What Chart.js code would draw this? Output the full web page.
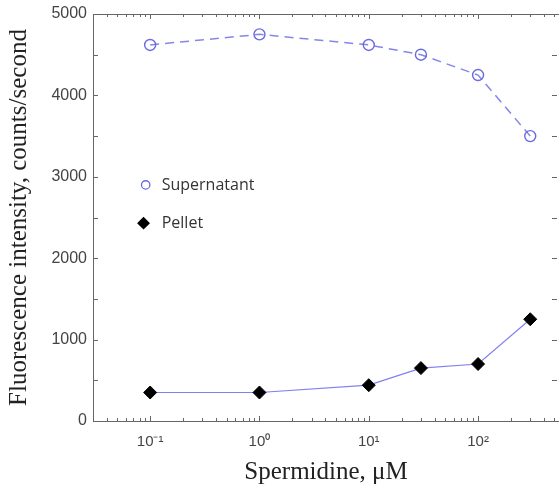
<!DOCTYPE html>
<html><head><meta charset="utf-8">
<script src="https://cdn.jsdelivr.net/npm/chart.js@4.4.0/dist/chart.umd.min.js"></script>
<style>html,body{margin:0;padding:0;background:#fff}#wrap{width:559px;height:490px}</style>
</head><body><div id="wrap"><canvas id="c" width="559" height="490"></canvas></div>
<script>
// ---- data ----
const spermidine = [0.1, 1, 10, 30, 100, 300];
const supernatant = [4620, 4750, 4620, 4500, 4250, 3500];
const pellet = [350, 350, 440, 650, 700, 1250];
const seriesNames = ['Supernatant', 'Pellet'];
const yTickLabels = [0, 1000, 2000, 3000, 4000, 5000];
const xTickLabels = [0.1, 1, 10, 100];
const xTickText = ['10\u207B\u00B9', '10\u2070', '10\u00B9', '10\u00B2'];
const xTitle = 'Spermidine, \u03BCM';
const yTitle = 'Fluorescence intensity, counts/second';

const X_MIN = 0.03, X_MAX = 550;
const AXIS_COLOR = '#666';

function logTicks(min, max) {
  const out = [];
  for (let e = Math.floor(Math.log10(min)); e <= Math.ceil(Math.log10(max)); e++) {
    for (let s = 1; s <= 9; s++) {
      const v = +(s * Math.pow(10, e)).toPrecision(6);
      if (v >= min - 1e-12 && v <= max + 1e-9) out.push(v);
    }
  }
  return out;
}
function isDecade(v) {
  const l = Math.log10(v);
  return Math.abs(l - Math.round(l)) < 1e-9;
}

const frameAndTicks = {
  id: 'frameAndTicks',
  afterDatasetsDraw(chart) {
    const ctx = chart.ctx, a = chart.chartArea;
    const xs = chart.scales.x, ys = chart.scales.y;
    ctx.save();
    ctx.strokeStyle = AXIS_COLOR;
    ctx.lineWidth = 1;
    ctx.beginPath();
    ctx.moveTo(a.left + 0.5, a.top + 0.5); ctx.lineTo(a.left + 0.5, a.bottom + 0.5);
    ctx.lineTo(a.right, a.bottom + 0.5);
    ctx.moveTo(a.left + 0.5, a.top + 0.5); ctx.lineTo(a.right, a.top + 0.5);
    ctx.stroke();
    ctx.beginPath();
    xs.ticks.forEach(t => {
      const px = Math.round(xs.getPixelForValue(t.value)) + 0.5;
      const len = isDecade(t.value) ? 5 : 3;
      ctx.moveTo(px, a.bottom); ctx.lineTo(px, a.bottom - len);
      ctx.moveTo(px, a.top); ctx.lineTo(px, a.top + len);
    });
    ys.ticks.forEach(t => {
      const py = Math.round(ys.getPixelForValue(t.value)) + 0.5;
      ctx.moveTo(a.left, py); ctx.lineTo(a.left + 5, py);
      ctx.moveTo(a.right - 2, py); ctx.lineTo(a.right - 7, py);
    });
    ctx.stroke();
    ctx.restore();
  }
};

const customLegend = {
  id: 'customLegend',
  afterDraw(chart) {
    const ctx = chart.ctx;
    const xs = chart.scales.x, ys = chart.scales.y;
    const mx = [xs.getPixelForValue(0.091), xs.getPixelForValue(0.087)];
    const rows = [ys.getPixelForValue(2900), ys.getPixelForValue(2430)];
    const sizes = [4.2, 5.5];
    ctx.save();
    chart.data.datasets.forEach((ds, i) => {
      ctx.strokeStyle = ds.pointBorderColor;
      ctx.fillStyle = ds.pointBackgroundColor;
      ctx.lineWidth = 1.3;
      Chart.helpers.drawPoint(ctx, {pointStyle: ds.pointStyle, radius: sizes[i], borderWidth: 1.3, rotation: 0}, mx[i], rows[i]);
      ctx.fillStyle = '#333';
      ctx.font = '16px "Open Sans", Lato, sans-serif';
      ctx.textBaseline = 'middle';
      ctx.textAlign = 'left';
      ctx.fillText(seriesNames[i], xs.getPixelForValue(0.0855) + 19, rows[i]);
    });
    ctx.restore();
  }
};

new Chart(document.getElementById('c'), {
  type: 'line',
  data: {
    datasets: [
      {
        label: seriesNames[0],
        data: spermidine.map((x, i) => ({x, y: supernatant[i]})),
        borderColor: '#8686e8',
        borderWidth: 1.5,
        borderDash: [9, 6],
        pointStyle: 'circle',
        pointRadius: 5.5,
        pointBorderWidth: 1.4,
        pointBorderColor: '#6a6ae0',
        pointBackgroundColor: 'rgba(0,0,0,0)',
        tension: 0
      },
      {
        label: seriesNames[1],
        data: spermidine.map((x, i) => ({x, y: pellet[i]})),
        borderColor: '#8080f0',
        borderWidth: 1.2,
        pointStyle: 'rectRot',
        pointRadius: 6.5,
        pointBorderWidth: 1,
        pointBorderColor: '#000',
        pointBackgroundColor: '#000',
        tension: 0
      }
    ]
  },
  options: {
    responsive: false,
    animation: false,
    devicePixelRatio: 1,
    layout: {autoPadding: false, padding: {left: 0, right: 0, top: 14, bottom: 0}},
    plugins: {legend: {display: false}, tooltip: {enabled: false}},
    scales: {
      x: {
        type: 'logarithmic',
        min: X_MIN, max: X_MAX,
        afterBuildTicks(scale) { scale.ticks = logTicks(X_MIN, X_MAX).map(v => ({value: v, major: isDecade(v)})); },
        afterFit(scale) { scale.height = 69; scale.paddingLeft = 0; scale.paddingRight = 0; },
        grid: {display: false, drawTicks: true, tickLength: 12},
        border: {display: false},
        ticks: {
          autoSkip: false, maxRotation: 0, minRotation: 0, padding: 0,
          color: '#444',
          font: {family: '"Liberation Sans", Arial, sans-serif', size: 15},
          callback(v) { const k = xTickLabels.findIndex(t => Math.abs(t - v) < 1e-9); return k >= 0 ? xTickText[k] : ''; }
        },
        title: {display: true, text: xTitle, color: '#222', font: {family: '"Liberation Serif", "Times New Roman", serif', size: 25}, padding: {top: 0, bottom: 3}}
      },
      y: {
        min: 0, max: 5000,
        afterFit(scale) { scale.width = 93; },
        grid: {display: false, drawTicks: true, tickLength: 6},
        border: {display: false},
        ticks: {
          stepSize: 500, padding: 0, color: '#444',
          font: {family: '"Liberation Sans", Arial, sans-serif', size: 16},
          callback(v) { return yTickLabels.includes(v) ? String(v) : ''; }
        },
        title: {display: true, text: yTitle, color: '#222', font: {family: '"Liberation Serif", "Times New Roman", serif', size: 25}, padding: {top: 4, bottom: 0}}
      }
    }
  },
  plugins: [frameAndTicks, customLegend]
});
</script></body></html>
